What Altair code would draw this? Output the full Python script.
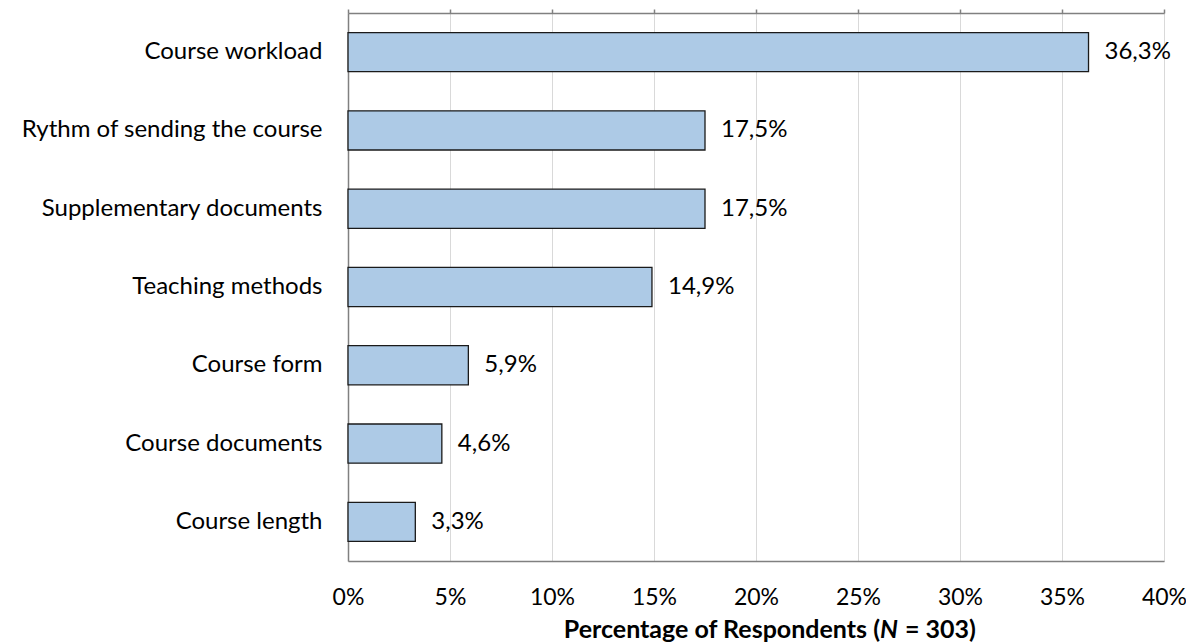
import altair as alt
import pandas as pd

categories = ["Course workload", "Rythm of sending the course", "Supplementary documents",
              "Teaching methods", "Course form", "Course documents", "Course length"]
values = [36.3, 17.5, 17.5, 14.9, 5.9, 4.6, 3.3]
x_ticks = [0, 5, 10, 15, 20, 25, 30, 35, 40]

df = pd.DataFrame({"cat": categories, "v": values})

FONT = "Lato"
FS = 24
xscale = alt.Scale(domain=[0, 40], nice=False, zero=True)
yscale = alt.Scale(paddingInner=0.5, paddingOuter=0.25)

bars = alt.Chart(df).mark_bar(color="#ADCAE6", stroke="#1a1a1a", strokeWidth=1.3).encode(
    x=alt.X("v:Q", scale=xscale,
            axis=alt.Axis(values=x_ticks, labelExpr="datum.value + '%'", title=None,
                          ticks=False, domainColor="#808080", domainWidth=1.5,
                          grid=True, gridColor="#D9D9D9", gridWidth=1,
                          labelFont=FONT, labelFontSize=23, labelColor="#000000",
                          labelPadding=25, labelFlush=False, labelOverlap=False)),
    y=alt.Y("cat:N", sort=categories, scale=yscale,
            axis=alt.Axis(title=None, ticks=False, domainColor="#808080", domainWidth=1.5,
                          labelFont=FONT, labelFontSize=FS, labelColor="#000000",
                          labelPadding=26, labelLimit=400)),
)

labels = alt.Chart(df).transform_calculate(
    lab="replace(format(datum.v, '.1f'), '.', ',') + '%'"
).mark_text(align="left", baseline="middle", dx=16, font=FONT, fontSize=FS, color="#000000").encode(
    x=alt.X("v:Q", scale=xscale, axis=None),
    y=alt.Y("cat:N", sort=categories),
    text="lab:N",
)

top_axis = alt.Chart(df).mark_point(opacity=0).encode(
    x=alt.X("v:Q", scale=xscale,
            axis=alt.Axis(orient="top", values=x_ticks, labels=False, title=None,
                          ticks=True, tickSize=4, tickColor="#808080", tickWidth=1.5,
                          domainColor="#808080", domainWidth=1.5, grid=False)),
    y=alt.Y("cat:N", sort=categories),
)

one = alt.Chart(df).transform_filter("datum.cat == 'Course workload'")
title_y = 625
TFS = 25
t1 = one.mark_text(
    align="right", baseline="alphabetic", font=FONT, fontSize=TFS, fontWeight="bold", color="#000000"
).encode(x=alt.value(532), y=alt.value(title_y), text=alt.value("Percentage of Respondents ("))
t2 = one.mark_text(
    align="left", baseline="alphabetic", font=FONT, fontSize=TFS, fontWeight="bold", fontStyle="italic", color="#000000"
).encode(x=alt.value(532), y=alt.value(title_y), text=alt.value("N"))
t3 = one.mark_text(
    align="left", baseline="alphabetic", font=FONT, fontSize=TFS, fontWeight="bold", color="#000000"
).encode(x=alt.value(557), y=alt.value(title_y), text=alt.value("= 303)"))

chart = alt.layer(bars, labels, top_axis, t1, t2, t3).resolve_axis(x="independent").properties(
    width=816, height=548,
    autosize=alt.AutoSizeParams(type="none"),
    padding={"left": 340, "top": 5, "right": 22, "bottom": 82},
).configure_view(stroke=None).configure(background="white")

chart.save("out.html", embed_options={"renderer": "svg", "actions": False})
